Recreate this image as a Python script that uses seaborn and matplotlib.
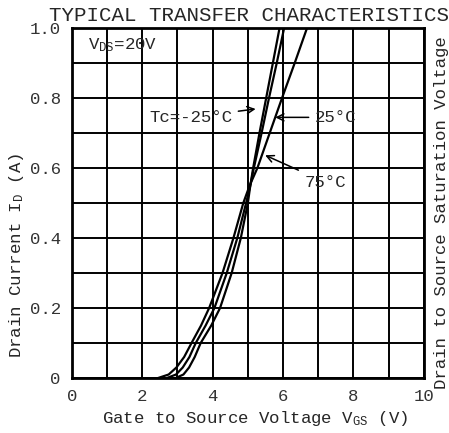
import matplotlib
matplotlib.use("Agg")
import matplotlib.pyplot as plt
import seaborn as sns
import pandas as pd

# Drain current levels (A) shared by all three curves
drain_current = [0, 0.01, 0.03, 0.06, 0.1, 0.15, 0.2, 0.3, 0.4, 0.5, 0.55, 0.6, 0.7, 0.8, 0.9, 1.0]

# Gate-source voltage (V) at each current level
vgs_75 = [2.45, 2.75, 2.97, 3.19, 3.40, 3.67, 3.90, 4.28, 4.59, 4.87, 5.05, 5.27, 5.62, 5.97, 6.33, 6.68]
vgs_25 = [2.70, 2.96, 3.15, 3.34, 3.52, 3.80, 4.05, 4.40, 4.70, 4.95, 5.07, 5.17, 5.39, 5.60, 5.82, 6.03]
vgs_m25 = [2.95, 3.17, 3.33, 3.49, 3.66, 3.96, 4.21, 4.54, 4.80, 5.00, 5.07, 5.15, 5.33, 5.52, 5.71, 5.90]

x_ticks = [0, 2, 4, 6, 8, 10]
y_ticks = [0, 0.2, 0.4, 0.6, 0.8, 1.0]
y_tick_labels = ["0", "0.2", "0.4", "0.6", "0.8", "1.0"]

sns.set_style("white")
plt.rcParams["font.family"] = ["Liberation Mono", "DejaVu Sans"]
plt.rcParams["mathtext.fontset"] = "custom"
plt.rcParams["mathtext.rm"] = "Liberation Mono"
plt.rcParams["mathtext.default"] = "regular"

curves = pd.concat([
    pd.DataFrame({"vgs": vgs_m25, "id": drain_current, "tc": "-25"}),
    pd.DataFrame({"vgs": vgs_25, "id": drain_current, "tc": "25"}),
    pd.DataFrame({"vgs": vgs_75, "id": drain_current, "tc": "75"}),
])

fig = plt.figure(figsize=(4.49, 4.33), dpi=100)
ax = fig.add_axes([0.160, 0.127, 0.784, 0.808])

for tc, grp in curves.groupby("tc"):
    sns.lineplot(data=grp, x="vgs", y="id", sort=False, color="black",
                 linewidth=1.6, ax=ax, legend=False)

ax.set_xlim(0, 10)
ax.set_ylim(0, 1.0)
ax.set_xticks(x_ticks)
ax.set_xticks(range(0, 11), minor=True)
ax.set_yticks(y_ticks)
ax.set_yticklabels(y_tick_labels)
ax.set_yticks([i / 10 for i in range(11)], minor=True)
ax.grid(which="both", color="black", linewidth=1.4)
ax.tick_params(which="both", length=0, labelsize=12.5, colors="#333333", pad=8)
for s in ax.spines.values():
    s.set_linewidth(2)
    s.set_color("black")

ax.set_xlabel("Gate to Source Voltage V$_{GS}$ (V)", fontsize=12.5)
ax.set_ylabel("Drain Current I$_{D}$ (A)", fontsize=12.5)
ax.xaxis.set_label_coords(0.52, -0.09)
ax.yaxis.set_label_coords(-0.13, 0.35)

fig.text(0.555, 0.965, "TYPICAL TRANSFER CHARACTERISTICS", fontsize=15,
         ha="center", va="center")
fig.text(0.983, 0.51, "Drain to Source Saturation Voltage", fontsize=12.5,
         rotation=90, ha="center", va="center")

ax.text(0.45, 0.95, "V$_{DS}$=20V", fontsize=12.5, ha="left", va="center")

arrow = dict(arrowstyle="->", color="black", linewidth=1.1)
ax.annotate("Tc=-25°C", xy=(5.3, 0.77), xytext=(2.2, 0.745), fontsize=12.5,
            ha="left", va="center", arrowprops=arrow)
ax.annotate("25°C", xy=(5.7, 0.745), xytext=(6.9, 0.745), fontsize=12.5,
            ha="left", va="center", arrowprops=arrow)
ax.annotate("75°C", xy=(5.42, 0.64), xytext=(6.6, 0.56), fontsize=12.5,
            ha="left", va="center", arrowprops=arrow)

fig.savefig("out.png", dpi=100)
